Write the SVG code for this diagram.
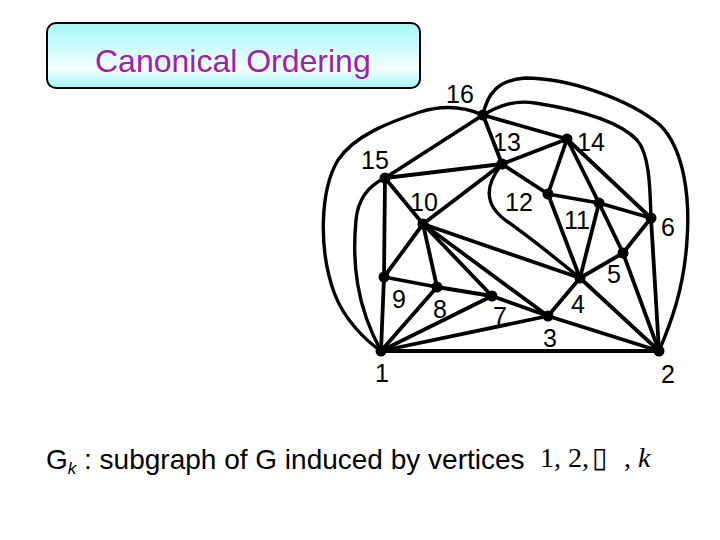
<svg xmlns="http://www.w3.org/2000/svg" width="720" height="540" viewBox="0 0 720 540">
<defs>
<linearGradient id="tg" x1="0" y1="0" x2="0" y2="1">
<stop offset="0" stop-color="#a4f7f7"/>
<stop offset="0.7" stop-color="#f4ffff"/>
<stop offset="1" stop-color="#a4f7f7"/>
</linearGradient>
</defs>
<style>
.e{stroke:#000;stroke-width:3.8;fill:none;stroke-linecap:round}
.c{stroke:#000;stroke-width:3.4;fill:none}
.n{fill:#000}
.l{font-family:"Liberation Sans",Arial,sans-serif;font-size:25px;fill:#000}
.t{font-family:"Liberation Sans",Arial,sans-serif;font-size:32px;fill:#a020a8}
.b{font-family:"Liberation Sans",Arial,sans-serif;font-size:28px;fill:#000}
.m{font-family:"Liberation Serif","Times New Roman",serif;font-size:28px;fill:#000}
</style>
<rect width="720" height="540" fill="#fff"/>
<g id="title">
<rect x="47" y="23" width="373" height="65" rx="9" fill="url(#tg)" stroke="#000" stroke-width="2"/>
<text class="t" x="95" y="72">Canonical Ordering</text>
</g>
<g id="connectors">
<line class="e" x1="381" y1="351" x2="659" y2="351"/>
<line class="e" x1="381" y1="351" x2="384" y2="277"/>
<line class="e" x1="381" y1="351" x2="437" y2="287"/>
<line class="e" x1="381" y1="351" x2="492" y2="296"/>
<line class="e" x1="381" y1="351" x2="548" y2="316"/>
<line class="e" x1="385" y1="178" x2="384" y2="277"/>
<line class="e" x1="385" y1="178" x2="423" y2="224"/>
<line class="e" x1="385" y1="178" x2="502" y2="164"/>
<line class="e" x1="385" y1="178" x2="483" y2="115"/>
<line class="e" x1="423" y1="224" x2="384" y2="277"/>
<line class="e" x1="423" y1="224" x2="437" y2="287"/>
<line class="e" x1="423" y1="224" x2="492" y2="296"/>
<line class="e" x1="423" y1="224" x2="548" y2="316"/>
<line class="e" x1="423" y1="224" x2="580" y2="278"/>
<line class="e" x1="423" y1="224" x2="502" y2="164"/>
<line class="e" x1="384" y1="277" x2="437" y2="287"/>
<line class="e" x1="437" y1="287" x2="492" y2="296"/>
<line class="e" x1="492" y1="296" x2="548" y2="316"/>
<line class="e" x1="548" y1="316" x2="580" y2="278"/>
<line class="e" x1="548" y1="316" x2="659" y2="351"/>
<line class="e" x1="580" y1="278" x2="548" y2="194"/>
<line class="e" x1="580" y1="278" x2="599" y2="203"/>
<line class="e" x1="580" y1="278" x2="623" y2="253"/>
<line class="e" x1="580" y1="278" x2="659" y2="351"/>
<line class="e" x1="502" y1="164" x2="548" y2="194"/>
<line class="e" x1="502" y1="164" x2="567" y2="139"/>
<line class="e" x1="502" y1="164" x2="483" y2="115"/>
<line class="e" x1="483" y1="115" x2="567" y2="139"/>
<line class="e" x1="567" y1="139" x2="548" y2="194"/>
<line class="e" x1="567" y1="139" x2="599" y2="203"/>
<line class="e" x1="567" y1="139" x2="651" y2="218"/>
<line class="e" x1="548" y1="194" x2="599" y2="203"/>
<line class="e" x1="599" y1="203" x2="651" y2="218"/>
<line class="e" x1="599" y1="203" x2="623" y2="253"/>
<line class="e" x1="623" y1="253" x2="651" y2="218"/>
<line class="e" x1="623" y1="253" x2="659" y2="351"/>
<line class="e" x1="651" y1="218" x2="659" y2="351"/>
<path class="c" d="M502,164 C485,185 483,205 508,222 C540,245 560,262 580,278"/>
<path class="c" d="M483,115 C465,107 445,104 420,112 C390,122 355,135 338,160 C320,190 318,250 335,295 C345,320 365,340 381,351"/>
<path class="c" d="M385,178 C370,185 358,198 356,220 C352,262 356,305 381,351"/>
<path class="c" d="M483,115 C487,95 497,80 525,78 C570,78 630,100 660,125 C685,150 690,200 687,240 C684,290 670,325 659,351"/>
<path class="c" d="M483,115 C500,105 515,100 535,103 C580,110 620,122 637,140 C650,155 650,190 651,218"/>
</g>
<g id="n1"><circle class="n" cx="381" cy="351" r="5.5"/><text class="l" x="375" y="382">1</text></g>
<g id="n2"><circle class="n" cx="659" cy="351" r="5.5"/><text class="l" x="661" y="383">2</text></g>
<g id="n3"><circle class="n" cx="548" cy="316" r="5.5"/><text class="l" x="543" y="347">3</text></g>
<g id="n4"><circle class="n" cx="580" cy="278" r="5.5"/><text class="l" x="571" y="313">4</text></g>
<g id="n5"><circle class="n" cx="623" cy="253" r="5.5"/><text class="l" x="607" y="283">5</text></g>
<g id="n6"><circle class="n" cx="651" cy="218" r="5.5"/><text class="l" x="661" y="236">6</text></g>
<g id="n7"><circle class="n" cx="492" cy="296" r="5.5"/><text class="l" x="493" y="325">7</text></g>
<g id="n8"><circle class="n" cx="437" cy="287" r="5.5"/><text class="l" x="433" y="318">8</text></g>
<g id="n9"><circle class="n" cx="384" cy="277" r="5.5"/><text class="l" x="392" y="308">9</text></g>
<g id="n10"><circle class="n" cx="423" cy="224" r="5.5"/><text class="l" x="410" y="211">10</text></g>
<g id="n11"><circle class="n" cx="599" cy="203" r="5.5"/><text class="l" x="564" y="229">11</text></g>
<g id="n12"><circle class="n" cx="548" cy="194" r="5.5"/><text class="l" x="505" y="211">12</text></g>
<g id="n13"><circle class="n" cx="502" cy="164" r="5.5"/><text class="l" x="493" y="151">13</text></g>
<g id="n14"><circle class="n" cx="567" cy="139" r="5.5"/><text class="l" x="577" y="151">14</text></g>
<g id="n15"><circle class="n" cx="385" cy="178" r="5.5"/><text class="l" x="361" y="169">15</text></g>
<g id="n16"><circle class="n" cx="483" cy="115" r="5.5"/><text class="l" x="446" y="103">16</text></g>
<g id="caption">
<text class="b" x="46" y="469">G<tspan font-size="17" font-style="italic" dy="5">k</tspan><tspan dy="-5"> : subgraph of G induced by vertices</tspan></text>
<text class="m" x="540" y="467">1, 2,</text>
<text class="m" x="592" y="467" font-family="'DejaVu Sans',sans-serif" font-size="21">▯</text>
<text class="m" x="624" y="467">, <tspan font-style="italic">k</tspan></text>
</g>
</svg>
